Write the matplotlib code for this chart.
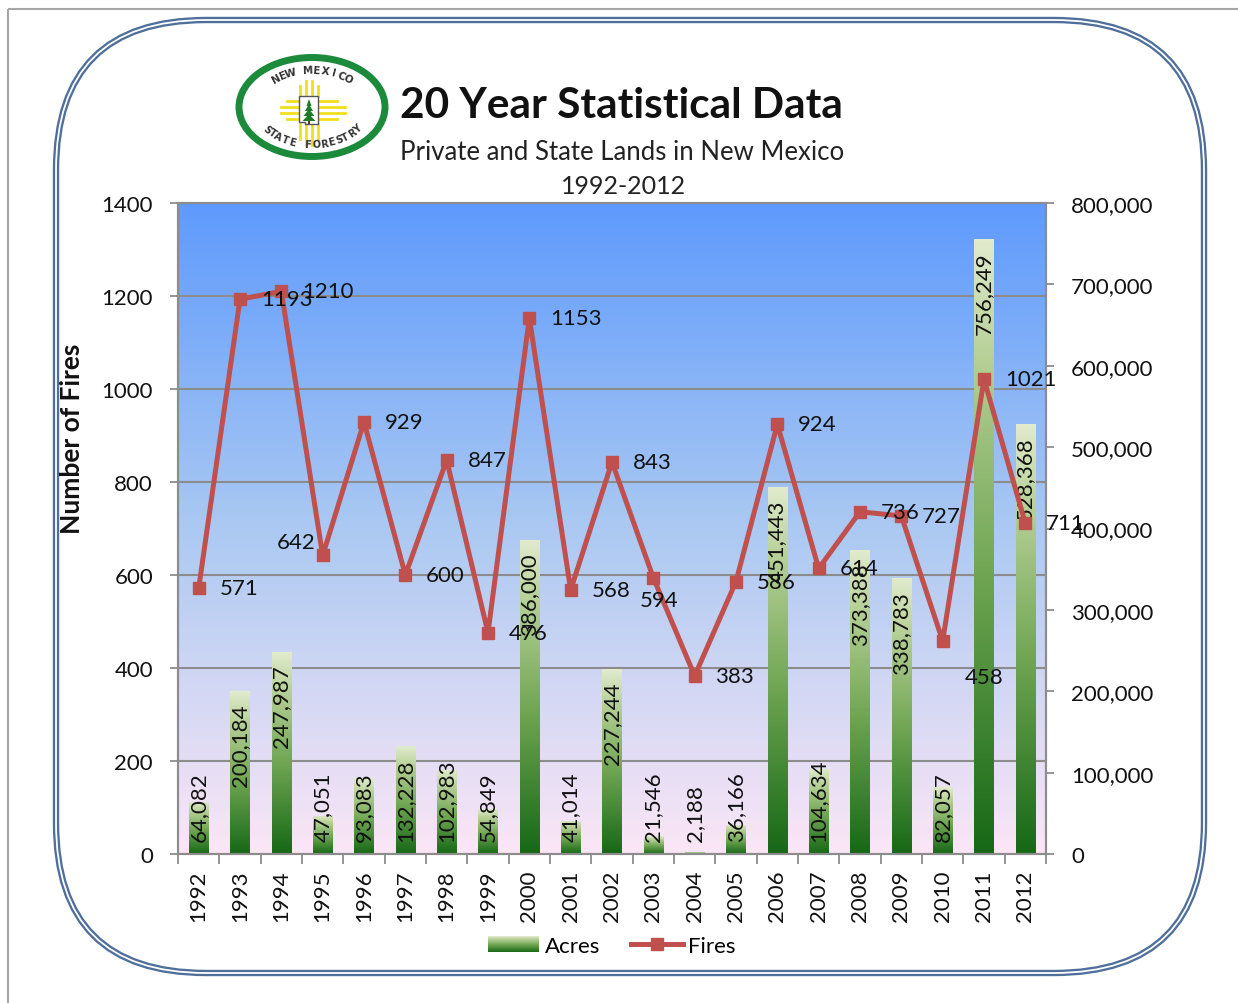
import numpy as np
import matplotlib
matplotlib.use('Agg')
import matplotlib.pyplot as plt
from matplotlib.patches import FancyBboxPatch, Rectangle, Ellipse, Polygon
from matplotlib.colors import LinearSegmentedColormap
from matplotlib.legend_handler import HandlerBase
from matplotlib.lines import Line2D
from matplotlib.ticker import FuncFormatter

years = ['1992', '1993', '1994', '1995', '1996', '1997', '1998', '1999', '2000', '2001', '2002',
         '2003', '2004', '2005', '2006', '2007', '2008', '2009', '2010', '2011', '2012']
fires = [571, 1193, 1210, 642, 929, 600, 847, 476, 1153, 568, 843,
         594, 383, 586, 924, 614, 736, 727, 458, 1021, 711]
acres = [64082, 200184, 247987, 47051, 93083, 132228, 102983, 54849, 386000, 41014, 227244,
         21546, 2188, 36166, 451443, 104634, 373388, 338783, 82057, 756249, 528368]
fire_ticks = [0, 200, 400, 600, 800, 1000, 1200, 1400]
acre_ticks = [0, 100000, 200000, 300000, 400000, 500000, 600000, 700000, 800000]

plt.rcParams['font.family'] = ['Lato', 'DejaVu Sans']

RED = '#c0504d'
GRID = '#8c8c8c'
TXT = '#111111'
FS = 16

sky = LinearSegmentedColormap.from_list('sky', [(0, '#fbe6f6'), (0.5, '#abc9f2'), (1, '#5e9afd')])
leaf = LinearSegmentedColormap.from_list('leaf', [(0, '#166816'), (0.45, '#6fa552'),
                                                  (0.8, '#b5cf96'), (1, '#e1ebcd')])
ramp = np.linspace(0, 1, 256).reshape(-1, 1)


class GradientHandler(HandlerBase):
    def create_artists(self, legend, orig_handle, xdescent, ydescent, width, height, fontsize, trans):
        n = 16
        out = []
        for k in range(n):
            r = Rectangle((-xdescent, -ydescent + height * k / n), width, height / n + 0.3,
                          fc=leaf((k + 0.5) / n), ec='none', transform=trans)
            out.append(r)
        return out


def draw_logo(a, cx, cy):
    a.add_patch(Ellipse((cx, cy), 146, 99, fc='white', ec='#1b8a3a', lw=5, zorder=2))
    # zia rays around the state outline
    sx, sy = cx - 3, cy + 3
    ycol = '#f1df1c'
    for d, short in [(-9, True), (-3, False), (3, False), (9, True)]:
        a.plot([sx + d, sx + d], [sy - 14, sy - 14 - (10 if short else 15)], color=ycol, lw=2, zorder=3)
        a.plot([sx + d, sx + d], [sy + 14, sy + 14 + (15 if short else 21)], color=ycol, lw=2, zorder=3)
        a.plot([sx - 10, sx - 10 - (12 if short else 18)], [sy + d, sy + d], color=ycol, lw=2, zorder=3)
        a.plot([sx + 10, sx + 10 + (18 if short else 26)], [sy + d, sy + d], color=ycol, lw=2, zorder=3)
    a.add_patch(Polygon([(sx - 10, sy - 14), (sx + 9, sy - 14), (sx + 9, sy + 14),
                         (sx - 4, sy + 14), (sx - 4, sy + 12), (sx - 10, sy + 12)],
                        closed=True, fc='white', ec='#555555', lw=1, zorder=4))
    for w, top in [(5, -11), (8, -6), (11, -1), (13, 4)]:
        a.add_patch(Polygon([(sx - w / 2, sy + top + 7), (sx + w / 2, sy + top + 7), (sx, sy + top)],
                            closed=True, fc='#1f7a2a', ec='none', zorder=5))
    a.add_patch(Rectangle((sx - 1, sy + 11), 2, 3, fc='#5a3a1a', ec='none', zorder=5))
    # curved lettering
    ra, rb = 56, 37
    top = 'NEW MEXICO'
    for k, ch in enumerate(top):
        th = np.radians(130 - k * 80 / (len(top) - 1))
        ang = np.degrees(np.arctan2(-rb * np.cos(th), ra * np.sin(th)))
        a.text(cx + ra * np.cos(th), cy - rb * np.sin(th), ch, rotation=ang, rotation_mode='anchor',
               ha='center', va='center', fontsize=7.5, fontweight='bold', color='#333333', zorder=6,
               family='DejaVu Sans')
    bot = 'STATE FORESTRY'
    for k, ch in enumerate(bot):
        th = np.radians(216 + k * 108 / (len(bot) - 1))
        ang = np.degrees(np.arctan2(rb * np.cos(th), -ra * np.sin(th)))
        a.text(cx + ra * np.cos(th), cy - rb * np.sin(th), ch, rotation=ang, rotation_mode='anchor',
               ha='center', va='center', fontsize=7, fontweight='bold', color='#333333', zorder=6,
               family='DejaVu Sans')


fig = plt.figure(figsize=(12.38, 10.04), dpi=100)

# page layer in pixel units: frame, logo and headings
bg = fig.add_axes([0, 0, 1, 1], zorder=-5)
bg.set_xlim(0, 1238)
bg.set_ylim(1004, 0)
bg.axis('off')
bg.add_patch(Rectangle((8, 10), 1400, 1100, fill=False, ec='#a6a6a6', lw=1.5))
for lw, col in [(4.6, '#4f6f9b'), (1.3, 'white')]:
    bg.add_patch(FancyBboxPatch((56, 21), 1148, 953, boxstyle='round,pad=0,rounding_size=150',
                                fill=False, ec=col, lw=lw))
draw_logo(bg, 312, 108)
bg.text(400, 106, '20 Year Statistical Data', fontsize=30.5, fontweight='bold', color=TXT,
        ha='left', va='center')
bg.text(400, 152, 'Private and State Lands in New Mexico', fontsize=18.5, color='#222222',
        ha='left', va='center')
bg.text(624, 187, '1992-2012', fontsize=18, color='#222222', ha='center', va='center')

# acres axis (right) carries the background and bars
ax = fig.add_axes([178 / 1238, 1 - 855 / 1004, 868 / 1238, 651 / 1004])
x = np.arange(len(years))
scale = acre_ticks[-1] / fire_ticks[-1]
ax.imshow(ramp, extent=(-0.5, len(years) - 0.5, 0, acre_ticks[-1]), aspect='auto',
          cmap=sky, origin='lower', zorder=0)
for f in fire_ticks[1:]:
    ax.axhline(f * scale, color=GRID, lw=1.5, zorder=1)
bars = ax.bar(x, acres, width=0.47, color='none', zorder=2)
for b in bars:
    im = ax.imshow(ramp, extent=(b.get_x(), b.get_x() + b.get_width(), 0, b.get_height()),
                   aspect='auto', cmap=leaf, origin='lower', zorder=2)
    im.set_clip_path(b)

ax2 = ax.twinx()
ax.yaxis.tick_right()
ax2.yaxis.tick_left()
ax2.yaxis.set_label_position('left')

ax.set_xlim(-0.5, len(years) - 0.5)
ax.set_ylim(0, acre_ticks[-1])
ax.set_yticks(acre_ticks)
ax.yaxis.set_major_formatter(FuncFormatter(lambda v, p: f'{v:,.0f}'))
ax.set_xticks(x)
ax.set_xticklabels(years, rotation=90)
ax.set_xticks(np.arange(-0.5, len(years), 1), minor=True)
ax.tick_params(axis='x', which='major', length=0, pad=11, labelsize=FS, labelcolor=TXT)
ax.tick_params(axis='x', which='minor', length=7, width=1.3, color=GRID)
ax.tick_params(axis='y', direction='out', length=6, width=1.3, color=GRID, pad=12,
               labelsize=FS, labelcolor=TXT)

ax2.set_ylim(0, fire_ticks[-1])
ax2.set_yticks(fire_ticks)
ax2.tick_params(axis='y', direction='out', length=6, width=1.3, color=GRID, pad=12,
                labelsize=FS, labelcolor=TXT)
ax2.set_ylabel('Number of Fires', fontsize=19, fontweight='bold', color=TXT)
ax2.yaxis.set_label_coords(-0.108, 0.639)
for a in (ax, ax2):
    for s in a.spines.values():
        s.set_color(GRID)
        s.set_linewidth(1.5)

ax2.plot(x, fires, color=RED, lw=3.6, marker='s', ms=9, zorder=3)

# fires labels, mostly to the right of each marker
label_pos = {3: ((-5, 10), 'right'), 11: ((4, -16), 'center'), 18: ((16, -26), 'left')}
for i, f in enumerate(fires):
    off, ha = label_pos.get(i, ((15, 0), 'left'))
    ax2.annotate(str(f), (i, f), xytext=off, textcoords='offset points', ha=ha, va='center',
                 fontsize=FS, color=TXT, zorder=5)

# acres labels: inside the bar top, or sitting on the base when the bar is short
bar_labels = []
for i, v in enumerate(acres):
    t = ax.annotate(f'{v:,}', (i, v), xytext=(0, -9), textcoords='offset points', rotation=90,
                    ha='center', va='top', fontsize=FS, color=TXT, zorder=4)
    bar_labels.append(t)
fig.canvas.draw()
rend = fig.canvas.get_renderer()
base = ax.transData.transform((0, 0))[1]
for i, t in enumerate(bar_labels):
    if t.get_window_extent(rend).y0 < base + 12:
        t.xy = (i, 0)
        t.set_position((0, 9))
        t.set_va('bottom')

handles = [Rectangle((0, 0), 1, 1), Line2D([], [], color=RED, lw=3.6, marker='s', ms=9)]
fig.legend(handles, ['Acres', 'Fires'], loc='center', bbox_to_anchor=(612 / 1238, 1 - 947 / 1004),
           ncol=2, frameon=False, fontsize=FS, handlelength=2.3, handletextpad=0.25,
           columnspacing=1.4, handler_map={Rectangle: GradientHandler()})

fig.savefig('out.png', dpi=100)
